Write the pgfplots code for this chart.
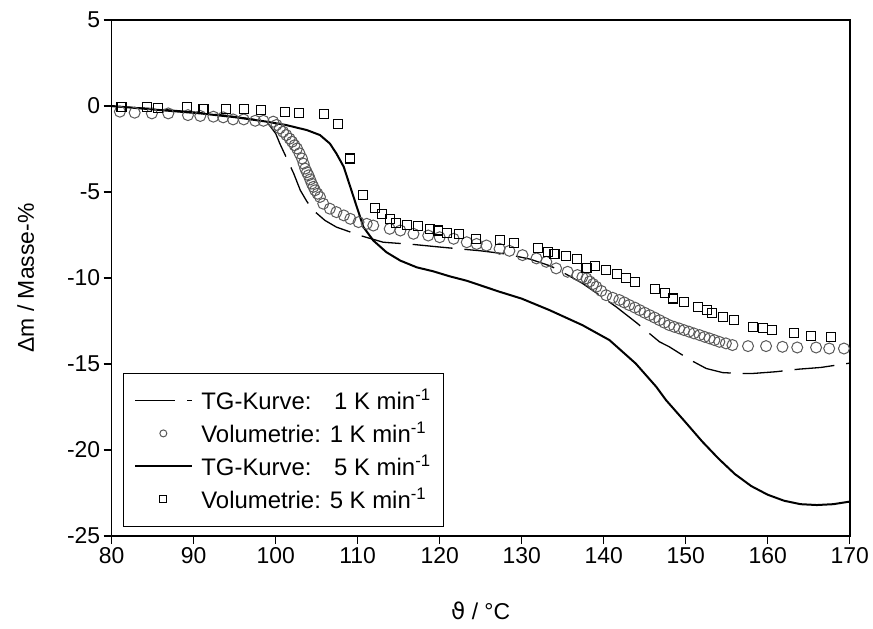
\documentclass[border=0pt]{standalone}
\usepackage{fontspec}
\setmainfont{Liberation Sans}
\newfontfamily\dejavu{DejaVu Sans}
\usepackage{pgfplots}
\usepackage{pgfplotstable}
\pgfplotsset{compat=1.18}

\pgfplotstableread{
x y
80 -0.02
85 -0.15
90 -0.35
94 -0.55
97 -0.75
98.9 -0.91
100.0 -1.6
100.5 -2.18
101.3 -3.0
102.2 -3.93
103.0 -4.90
103.8 -5.55
104.6 -6.07
106.0 -6.65
107.4 -7.04
110.3 -7.53
113.1 -7.92
116.8 -8.05
120 -8.2
122.5 -8.31
125 -8.42
128 -8.6
131 -8.9
133.5 -9.3
135.5 -9.8
137.4 -10.31
139.5 -11.0
141.5 -11.67
144 -12.6
146.8 -13.71
148.0 -14.0
150.5 -14.75
152.5 -15.26
154.5 -15.5
156.5 -15.55
158.2 -15.55
161 -15.45
163.8 -15.3
166.5 -15.2
170 -14.95
}\tgone

\pgfplotstableread{
x y
81.0 -0.33
82.8 -0.39
84.9 -0.43
86.9 -0.43
89.3 -0.53
90.8 -0.58
92.4 -0.62
93.6 -0.66
94.8 -0.78
96.1 -0.78
97.5 -0.86
98.5 -0.86
99.7 -0.91
100.1 -1.10
100.5 -1.30
100.9 -1.50
101.3 -1.69
101.7 -1.90
102.0 -2.08
102.3 -2.28
102.6 -2.47
102.9 -2.75
103.2 -3.05
103.4 -3.35
103.6 -3.64
103.8 -3.85
104.0 -4.03
104.2 -4.27
104.4 -4.51
104.6 -4.70
104.8 -4.90
105.1 -5.10
105.4 -5.29
105.8 -5.68
106.6 -5.97
107.4 -6.17
108.3 -6.36
109.1 -6.56
110.1 -6.75
111.1 -6.85
111.9 -6.95
113.9 -7.14
115.2 -7.24
116.8 -7.43
118.6 -7.53
120.0 -7.63
121.7 -7.72
123.3 -7.92
124.5 -8.02
125.7 -8.11
127.3 -8.30
128.5 -8.42
130.1 -8.67
131.8 -8.86
133.0 -9.06
134.2 -9.44
135.6 -9.64
136.8 -9.83
137.4 -9.95
137.9 -10.02
138.3 -10.20
138.7 -10.35
139.1 -10.51
139.7 -10.75
140.3 -11.00
141.1 -11.15
141.9 -11.28
142.5 -11.42
143.1 -11.57
143.8 -11.72
144.4 -11.87
145.0 -12.02
145.6 -12.16
146.2 -12.30
146.8 -12.45
147.4 -12.60
148.0 -12.74
148.6 -12.84
149.2 -12.93
149.8 -13.03
150.4 -13.12
151.0 -13.22
151.7 -13.32
152.3 -13.42
152.9 -13.51
153.5 -13.61
154.1 -13.71
154.9 -13.80
155.7 -13.90
157.6 -13.96
159.8 -13.96
161.8 -14.00
163.6 -14.04
165.9 -14.04
167.5 -14.10
169.3 -14.10
}\volone

\pgfplotstableread{
x y
80 0.0
85 -0.2
90.8 -0.43
95 -0.65
98.9 -0.91
101.3 -1.11
103.8 -1.40
105.4 -1.69
106.6 -2.18
107.4 -2.76
108.3 -3.54
109.1 -4.71
109.9 -5.88
110.7 -7.04
111.9 -7.82
113.5 -8.50
115.2 -8.99
117.2 -9.38
119.2 -9.61
121.2 -9.90
123.3 -10.16
127.3 -10.80
130 -11.2
133.4 -11.87
137.4 -12.74
140.7 -13.61
143.9 -14.97
146.4 -16.32
147.6 -17.1
150 -18.4
152 -19.5
154 -20.5
156 -21.4
158 -22.1
160 -22.6
162 -22.95
164 -23.15
166 -23.2
168 -23.15
170 -23.0
}\tgfive

\pgfplotstableread{
x y
81.2 -0.04
84.3 -0.08
85.7 -0.14
89.2 -0.08
91.2 -0.19
93.9 -0.16
96.1 -0.18
98.2 -0.23
101.1 -0.33
102.8 -0.39
105.9 -0.49
107.6 -1.05
109.1 -3.05
110.7 -5.19
112.1 -5.91
113.0 -6.30
113.9 -6.56
114.7 -6.79
116.0 -6.91
117.4 -7.00
118.8 -7.14
119.8 -7.24
120.9 -7.39
122.4 -7.43
124.4 -7.72
127.3 -7.80
129.1 -7.99
132.0 -8.28
133.2 -8.47
134.0 -8.61
135.4 -8.73
136.7 -8.90
137.9 -9.44
138.9 -9.29
140.3 -9.54
141.6 -9.77
142.7 -10.02
143.8 -10.22
146.3 -10.66
147.5 -10.86
148.4 -11.19
149.8 -11.38
151.5 -11.67
152.6 -11.87
153.2 -12.06
154.6 -12.29
155.9 -12.45
158.2 -12.83
159.4 -12.93
160.5 -13.03
163.2 -13.22
165.3 -13.38
167.7 -13.45
}\volfive

\begin{document}
\begin{tikzpicture}
\useasboundingbox (-111.7bp,-93bp) rectangle (761.3bp,536bp);
\begin{axis}[
  at={(0,0)}, anchor=south west,
  scale only axis, width=738bp, height=516bp,
  xmin=80, xmax=170, ymin=-25, ymax=5,
  xtick={80,90,...,170}, ytick={-25,-20,...,5},
  tick align=outside, xtick pos=bottom, ytick pos=left,
  major tick length=8bp,
  axis line style={line width=1.6bp},
  every tick/.style={line width=1.3bp, black},
  /pgf/number format/assume math mode=true,
  ticklabel style={font=\fontsize{23}{26}\selectfont},
  label style={font=\fontsize{23}{26}\selectfont},
  xlabel={{\dejavu ϑ} / °C},
  ylabel={Δm / Masse-\%},
  xlabel style={yshift=-31bp},
  ylabel style={yshift=26bp},
  legend style={at={(0.0149,0.0174)}, anchor=south west, draw=black,
    line width=1.3bp, font=\fontsize{24}{28}\selectfont,
    inner xsep=11bp, inner ysep=14bp, row sep=7bp, column sep=6bp,
    cells={anchor=west}},
  legend image code/.code={\draw[mark repeat=2, mark phase=2, mark size=3.5bp, #1]
    plot coordinates {(0bp,0bp)(28bp,0bp)(57bp,0bp)};},
]
\addplot[black, line width=1.3bp, dash pattern=on 40bp off 12bp] table[x=x,y=y] {\tgone};
\addlegendentry{\rlap{TG-Kurve:}\hphantom{Volumetrie:}\ \ 1 K min\textsuperscript{-1}}
\addplot[only marks, mark=o, mark size=5.5bp, draw=black!65, line width=1bp, mark options={line width=1bp}] table[x=x,y=y] {\volone};
\addlegendentry{Volumetrie: 1 K min\textsuperscript{-1}}
\addplot[black, line width=2bp] table[x=x,y=y] {\tgfive};
\addlegendentry{\rlap{TG-Kurve:}\hphantom{Volumetrie:}\ \ 5 K min\textsuperscript{-1}}
\addplot[only marks, mark=square, mark size=4.5bp, draw=black, line width=1.1bp] table[x=x,y=y] {\volfive};
\addlegendentry{Volumetrie: 5 K min\textsuperscript{-1}}
\end{axis}
\end{tikzpicture}
\end{document}
